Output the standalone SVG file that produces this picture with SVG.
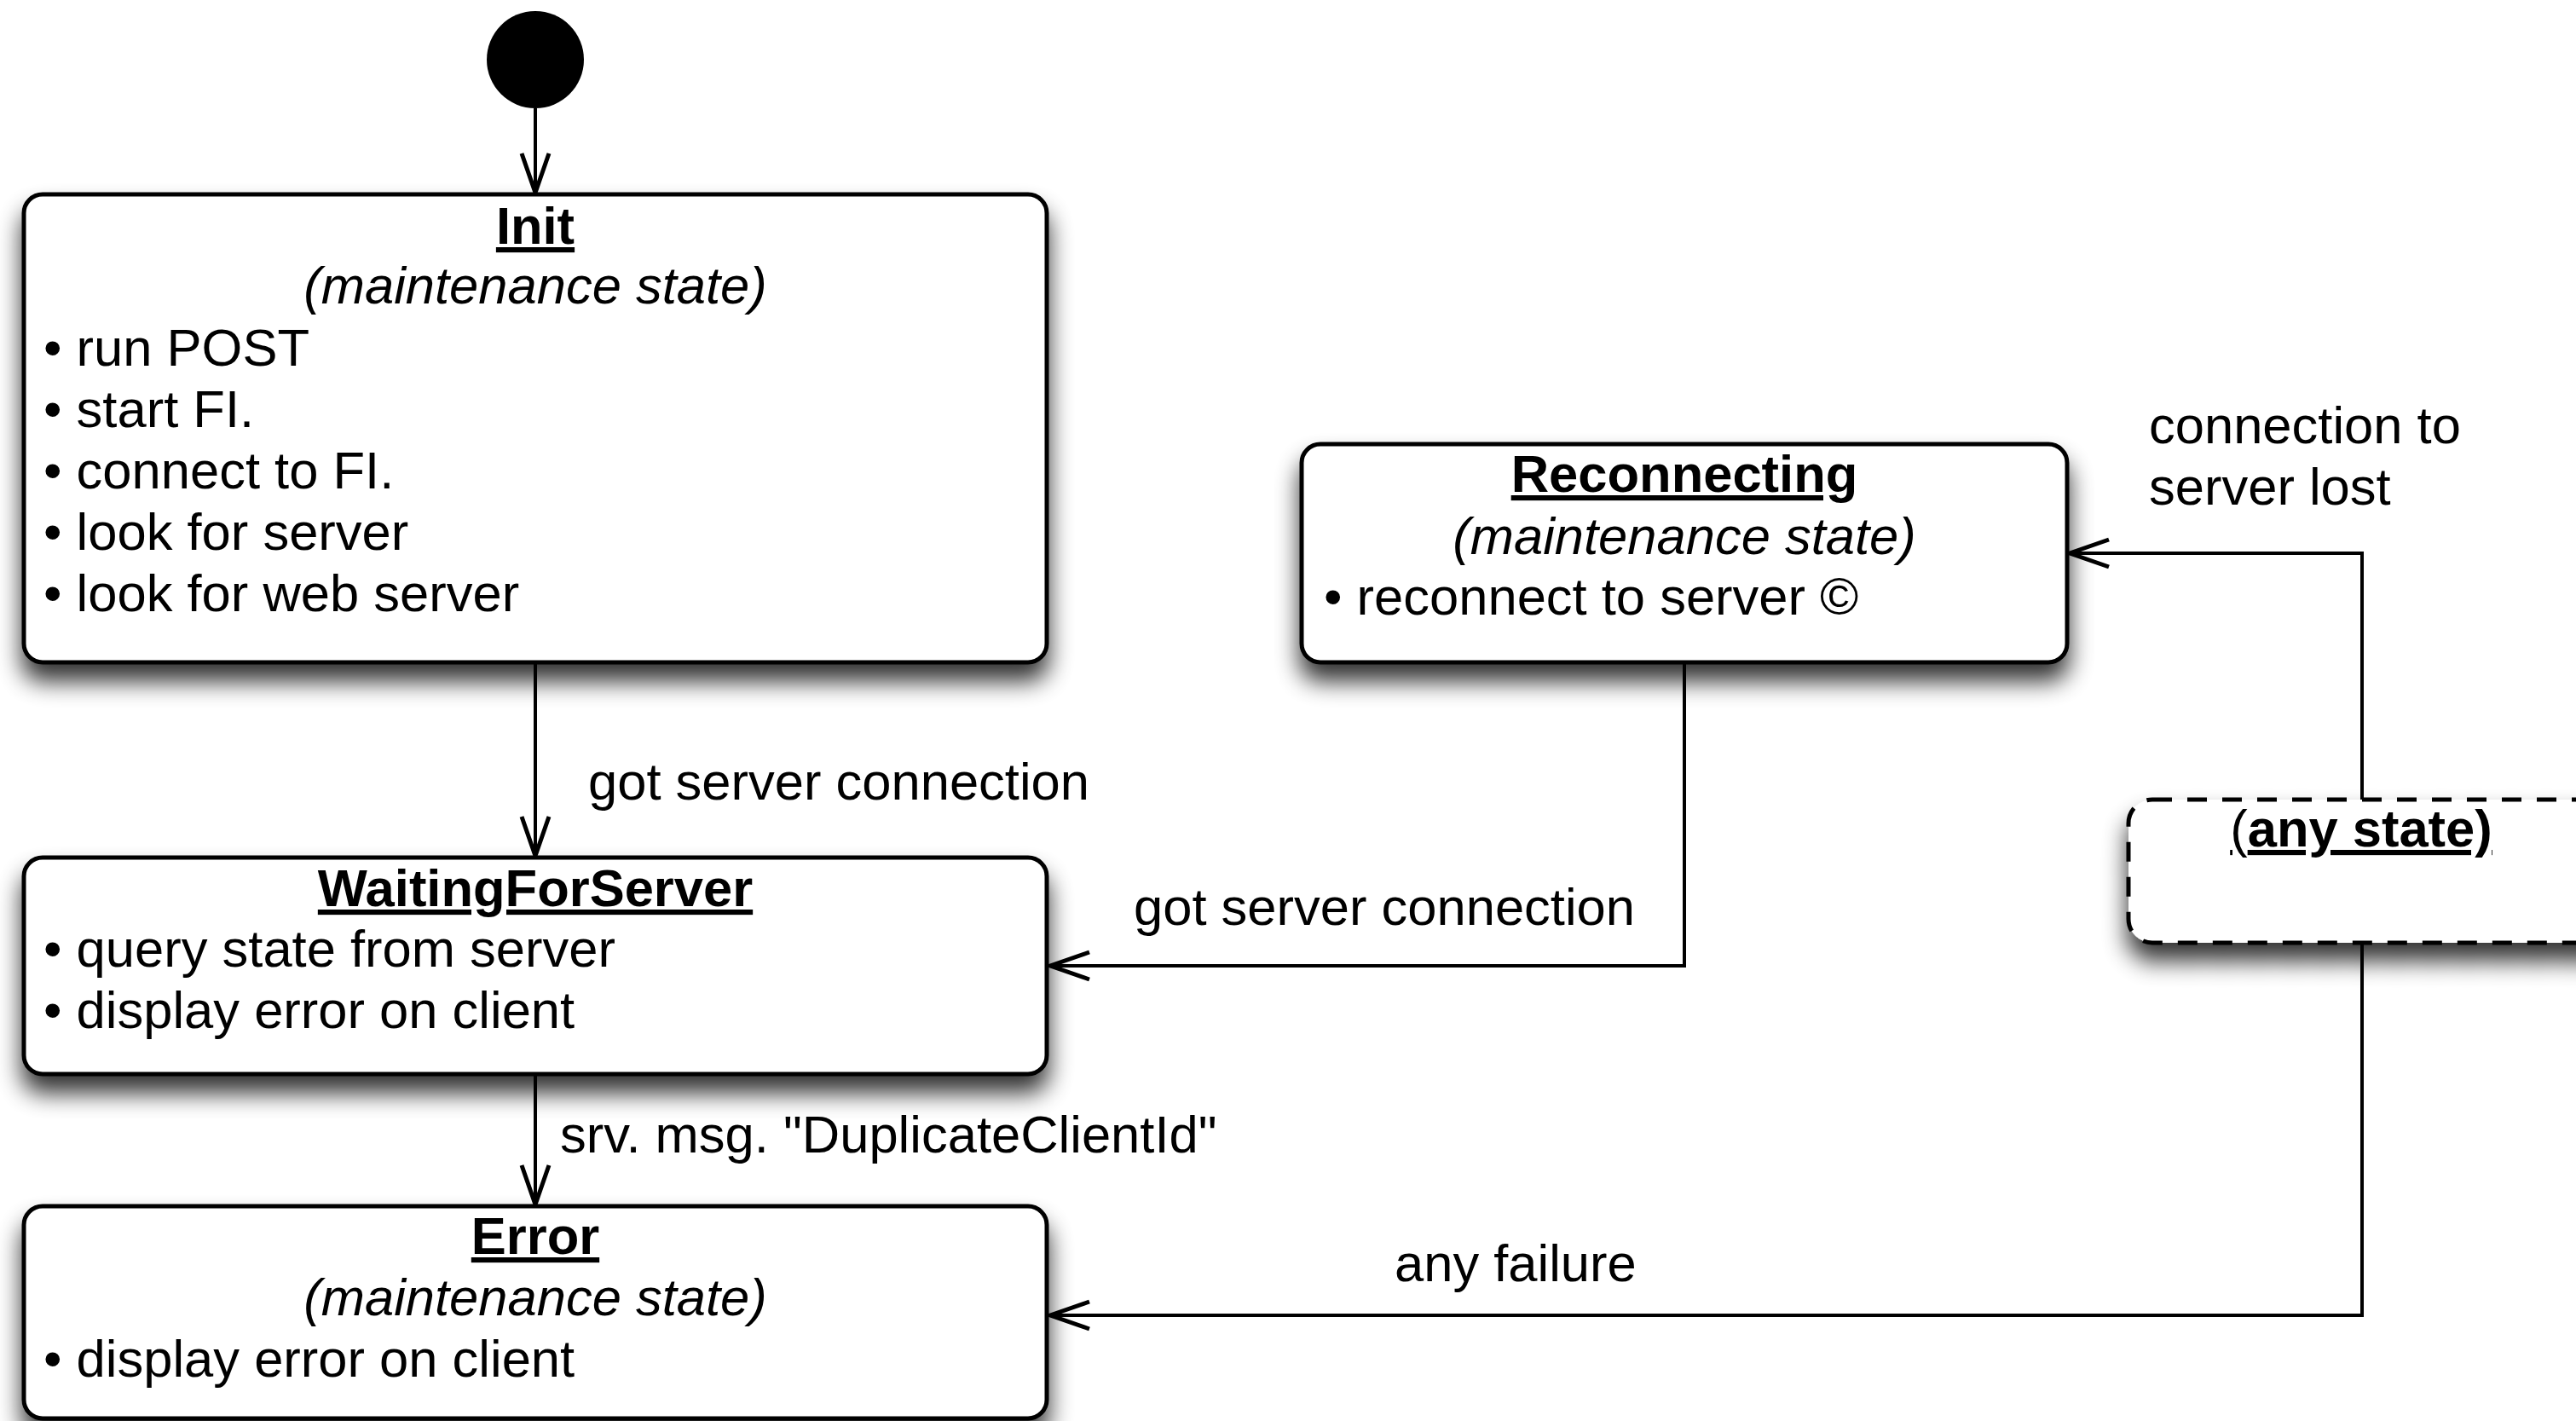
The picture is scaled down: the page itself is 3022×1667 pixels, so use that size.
<svg xmlns="http://www.w3.org/2000/svg" width="3022" height="1667" viewBox="0 0 3022 1667">
  <style>
    text { font-family: "Liberation Sans", Arial, Helvetica, sans-serif; font-size: 61.5px; fill: #000; }
    .title { font-weight: bold; text-decoration: underline; text-anchor: middle; }
    .sub { font-style: italic; text-anchor: middle; }
    .box { fill: #fff; stroke: #000; stroke-width: 5; }
    .dash { fill: #fff; stroke: #000; stroke-width: 5; stroke-dasharray: 23 18; }
    .conn { fill: none; stroke: #000; stroke-width: 4; marker-end: url(#arrow); }
  </style>
  <defs>
    <filter id="shadow" x="-10%" y="-20%" width="125%" height="170%">
      <feGaussianBlur in="SourceAlpha" stdDeviation="14"/>
      <feOffset dy="20" result="b"/>
      <feComponentTransfer><feFuncA type="linear" slope="0.8"/></feComponentTransfer>
      <feMerge><feMergeNode/><feMergeNode in="SourceGraphic"/></feMerge>
    </filter>
    <marker id="arrow" markerUnits="userSpaceOnUse" viewBox="-52 -22 58 44" refX="0" refY="0" markerWidth="58" markerHeight="44" orient="auto">
      <path d="M-46,-16 L0,0 L-46,16" fill="none" stroke="#000" stroke-width="5"/>
    </marker>
  </defs>

  <g id="connectors">
    <line class="conn" x1="628" y1="127" x2="628" y2="226"/>
    <line class="conn" x1="628" y1="777" x2="628" y2="1004"/>
    <line class="conn" x1="628" y1="1260" x2="628" y2="1413"/>
    <path class="conn" d="M1976,777 V1133 H1232"/>
    <path class="conn" d="M2771,938 V649 H2428"/>
    <path class="conn" d="M2771,1106 V1543 H1232"/>
    <text x="690" y="938">got server connection</text>
    <text x="657" y="1352">srv. msg. "DuplicateClientId"</text>
    <text x="1330" y="1085">got server connection</text>
    <text x="2521" y="520">connection to</text>
    <text x="2521" y="592">server lost</text>
    <text x="1636" y="1503">any failure</text>
  </g>

  <g id="start">
    <circle cx="628" cy="70" r="57" fill="#000"/>
  </g>

  <g id="init">
    <rect class="box" x="28" y="228" width="1200" height="549" rx="22" filter="url(#shadow)"/>
    <text class="title" x="628" y="286">Init</text>
    <text class="sub" x="628" y="356">(maintenance state)</text>
    <text x="51" y="429">• run POST</text>
    <text x="51" y="501">• start FI.</text>
    <text x="51" y="573">• connect to FI.</text>
    <text x="51" y="645">• look for server</text>
    <text x="51" y="717">• look for web server</text>
  </g>

  <g id="waitingForServer">
    <rect class="box" x="28" y="1006" width="1200" height="254" rx="22" filter="url(#shadow)"/>
    <text class="title" x="628" y="1063">WaitingForServer</text>
    <text x="51" y="1134">• query state from server</text>
    <text x="51" y="1206">• display error on client</text>
  </g>

  <g id="error">
    <rect class="box" x="28" y="1415" width="1200" height="249" rx="22" filter="url(#shadow)"/>
    <text class="title" x="628" y="1471">Error</text>
    <text class="sub" x="628" y="1543">(maintenance state)</text>
    <text x="51" y="1615">• display error on client</text>
  </g>

  <g id="reconnecting">
    <rect class="box" x="1527" y="521" width="898" height="256" rx="22" filter="url(#shadow)"/>
    <text class="title" x="1976" y="577">Reconnecting</text>
    <text class="sub" x="1976" y="650">(maintenance state)</text>
    <text x="1553" y="721">• reconnect to server ©</text>
  </g>

  <g id="anyState">
    <rect class="dash" x="2497" y="938" width="700" height="168" rx="28" filter="url(#shadow)"/>
    <text class="title" x="2770" y="993"><tspan font-weight="normal">(</tspan>any state)</text>
  </g>
</svg>
